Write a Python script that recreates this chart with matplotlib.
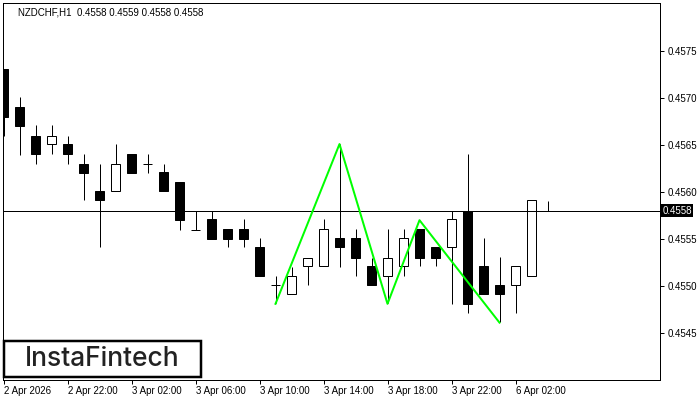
import matplotlib
matplotlib.use("Agg")
import matplotlib.pyplot as plt
import matplotlib.transforms as mtransforms
from matplotlib.patches import Rectangle
import numpy as np

plt.rcParams['font.family'] = ['Liberation Sans', 'DejaVu Sans']

# NZDCHF H1 candles, first one is 2 Apr 18:00
opens = np.array([0.45731, 0.45690, 0.45660, 0.45651, 0.45651, 0.45630, 0.45601,
                  0.45601, 0.45640, 0.45630, 0.45621, 0.45611, 0.45560, 0.45571,
                  0.45561, 0.45561, 0.45541, 0.45501, 0.45491, 0.45521, 0.45521,
                  0.45551, 0.45551, 0.45521, 0.45511, 0.45521, 0.45561, 0.45541,
                  0.45541, 0.45580, 0.45521, 0.45501, 0.45501, 0.45511, 0.45580])
highs = np.array([0.45731, 0.45701, 0.45671, 0.45671, 0.45660, 0.45640, 0.45630,
                  0.45651, 0.45640, 0.45640, 0.45630, 0.45611, 0.45580, 0.45580,
                  0.45561, 0.45571, 0.45551, 0.45511, 0.45520, 0.45530, 0.45571,
                  0.45651, 0.45561, 0.45530, 0.45561, 0.45561, 0.45561, 0.45541,
                  0.45580, 0.45640, 0.45551, 0.45531, 0.45521, 0.45591, 0.45590])
lows = np.array([0.45660, 0.45639, 0.45630, 0.45640, 0.45630, 0.45591, 0.45541,
                 0.45601, 0.45620, 0.45620, 0.45601, 0.45560, 0.45560, 0.45550,
                 0.45541, 0.45541, 0.45511, 0.45482, 0.45491, 0.45501, 0.45521,
                 0.45520, 0.45511, 0.45501, 0.45482, 0.45511, 0.45521, 0.45521,
                 0.45481, 0.45471, 0.45491, 0.45462, 0.45471, 0.45511, 0.45580])
closes = np.array([0.45680, 0.45670, 0.45640, 0.45660, 0.45640, 0.45620, 0.45591,
                   0.45630, 0.45620, 0.45630, 0.45601, 0.45570, 0.45560, 0.45550,
                   0.45550, 0.45550, 0.45511, 0.45501, 0.45511, 0.45530, 0.45561,
                   0.45541, 0.45530, 0.45501, 0.45530, 0.45551, 0.45530, 0.45530,
                   0.45571, 0.45481, 0.45491, 0.45491, 0.45521, 0.45591, 0.45580])

tick_idx = [0, 4, 8, 12, 16, 20, 24, 28, 32]
tick_labels = ['2 Apr 2026', '2 Apr 22:00', '3 Apr 02:00', '3 Apr 06:00',
               '3 Apr 10:00', '3 Apr 14:00', '3 Apr 18:00', '3 Apr 22:00',
               '6 Apr 02:00']
price_ticks = [0.4545, 0.4550, 0.4555, 0.4560, 0.4565, 0.4570, 0.4575]

# pattern pivots (triple bottom style zigzag)
pat_idx = [17, 21, 24, 26, 31]
pat_price = [0.45481, 0.45651, 0.45481, 0.45570, 0.45461]

current = 0.4558
title = 'NZDCHF,H1  0.4558 0.4559 0.4558 0.4558'

W, H = 700, 400
px = 0.72  # one pixel in points at dpi 100

fig = plt.figure(figsize=(7, 4), dpi=100)
ax = fig.add_axes([2.5 / W, (H - 379.5) / H, 657 / W, 377 / H])

x = np.arange(len(opens))
body_w = 0.62
up = closes >= opens

ax.vlines(x, lows, highs, color='black', lw=px, zorder=2)
body_lo = np.minimum(opens, closes)
body_hi = np.maximum(opens, closes)
flat = (body_hi - body_lo) < 0.00002
nf = ~flat
ax.bar(x[nf], (body_hi - body_lo)[nf], bottom=body_lo[nf], width=body_w,
       color=np.where(up[nf], 'white', 'black'), edgecolor='black', lw=px, zorder=3)
ax.hlines(opens[flat], x[flat] - body_w / 2, x[flat] + body_w / 2,
          color='black', lw=px, zorder=3)

ax.axhline(current, color='black', lw=px, zorder=4)
ax.plot(pat_idx, pat_price, color='#00ff00', lw=2 * px, zorder=5)

ax.set_xlim(-0.0625, 41)
ax.set_ylim(0.454005, 0.458016)

ax.yaxis.tick_right()
ax.set_yticks(price_ticks)
ax.set_yticklabels([f'{p:.4f}' for p in price_ticks])
ax.set_xticks(tick_idx)
ax.set_xticklabels(tick_labels, ha='left')
ax.tick_params(axis='both', length=4 * px, width=px, direction='out',
               labelsize=7, colors='black', pad=2)
ax.tick_params(axis='y', pad=3)
for s in ax.spines.values():
    s.set_linewidth(px)

trans = mtransforms.blended_transform_factory(ax.transAxes, ax.transData)
ax.text(1.004, current, '0.4558', transform=trans, color='white', fontsize=7,
        va='center', ha='left', clip_on=False,
        bbox=dict(facecolor='black', edgecolor='none', pad=1.2))

fig.text(18 / W, 1 - 12.5 / H, title, fontsize=7, va='center', ha='left')

# logo box
fig.patches.append(Rectangle((3.5 / W, (H - 377) / H), 197 / W, 36 / H,
                             transform=fig.transFigure, facecolor='white',
                             edgecolor='black', lw=2.5 * px, zorder=6))
fig.text(102 / W, 1 - 359 / H, 'InstaFintech', fontsize=19, color='#222222',
         family=['Inter', 'DejaVu Sans'], fontweight='medium',
         ha='center', va='center', zorder=7)

fig.savefig('out.png', dpi=100)
